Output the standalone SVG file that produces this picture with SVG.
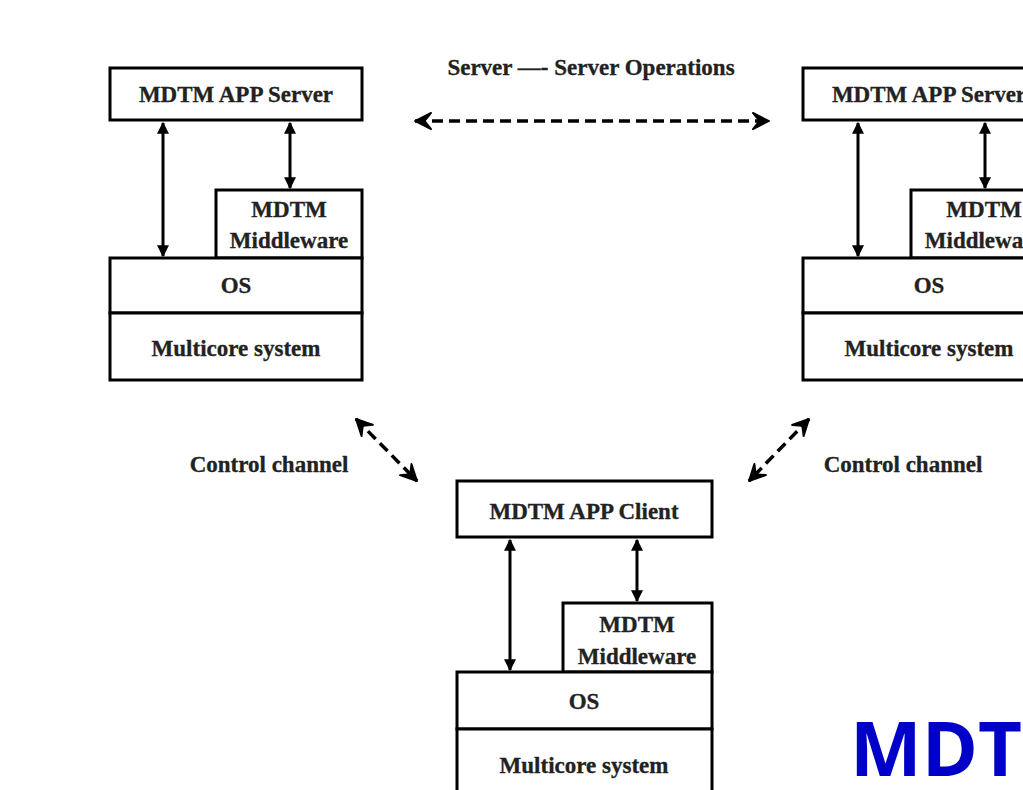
<svg xmlns="http://www.w3.org/2000/svg" width="1023" height="790" viewBox="0 0 1023 790">
<style>
.box{fill:#fff;stroke:#000;stroke-width:3}
.t{font-family:"Liberation Serif",serif;font-weight:bold;font-size:23px;fill:#222;stroke:#222;stroke-width:0.3;text-anchor:middle}
.v{stroke:#000;stroke-width:3;fill:none;marker-start:url(#ah);marker-end:url(#ah)}
.d{stroke:#000;stroke-width:3.5;fill:none;stroke-dasharray:11 6;marker-start:url(#oh);marker-end:url(#oh)}
</style>
<defs>
<marker id="ah" viewBox="0 0 10 10" refX="9" refY="5" markerWidth="4" markerHeight="4.5" orient="auto-start-reverse" markerUnits="strokeWidth"><path d="M0,0 L10,5 L0,10 z" fill="#000"/></marker>
<marker id="oh" viewBox="0 0 12 12" refX="11" refY="6" markerWidth="5.5" markerHeight="5.5" orient="auto-start-reverse" markerUnits="strokeWidth"><path d="M1,1 L11,6 L1,11 L5,6 z" fill="#000" stroke="#000" stroke-width="1.2" stroke-linejoin="round"/></marker>
</defs>
<rect width="1023" height="790" fill="#fff"/>
<g id="left-stack">
<rect class="box" x="110" y="68" width="252" height="52"/>
<text class="t" x="236" y="102">MDTM APP Server</text>
<rect class="box" x="216" y="190" width="146" height="68"/>
<text class="t" x="289" y="217">MDTM</text>
<text class="t" x="289" y="248">Middleware</text>
<rect class="box" x="110" y="258" width="252" height="55"/>
<text class="t" x="236" y="293">OS</text>
<rect class="box" x="110" y="313" width="252" height="67"/>
<text class="t" x="236" y="356">Multicore system</text>
</g>
<g id="right-stack">
<rect class="box" x="803" y="68" width="252" height="52"/>
<text class="t" x="929" y="102">MDTM APP Server</text>
<rect class="box" x="911" y="190" width="146" height="68"/>
<text class="t" x="984" y="217">MDTM</text>
<text class="t" x="984" y="248">Middleware</text>
<rect class="box" x="803" y="258" width="252" height="55"/>
<text class="t" x="929" y="293">OS</text>
<rect class="box" x="803" y="313" width="252" height="67"/>
<text class="t" x="929" y="356">Multicore system</text>
</g>
<g id="client-stack">
<rect class="box" x="457" y="481" width="255" height="56"/>
<text class="t" x="584" y="519">MDTM APP  Client</text>
<rect class="box" x="563" y="603" width="149" height="69"/>
<text class="t" x="637" y="632">MDTM</text>
<text class="t" x="637" y="664">Middleware</text>
<rect class="box" x="457" y="672" width="255" height="57"/>
<text class="t" x="584" y="709">OS</text>
<rect class="box" x="457" y="729" width="255" height="70"/>
<text class="t" x="584" y="773">Multicore system</text>
</g>
<g id="labels">
<text class="t" x="591" y="75">Server —- Server Operations</text>
<text class="t" x="269" y="472">Control channel</text>
<text class="t" x="903" y="472">Control channel</text>
<text x="850" y="776" style="font-family:'Open Sans','Liberation Sans',sans-serif;font-weight:bold;font-size:76px;fill:#0000c8">MDT</text>
</g>
<g id="connectors">
<line class="v" x1="163" y1="123" x2="163" y2="256"/>
<line class="v" x1="290" y1="123" x2="290" y2="188"/>
<line class="v" x1="858" y1="123" x2="858" y2="256"/>
<line class="v" x1="985" y1="123" x2="985" y2="188"/>
<line class="v" x1="510" y1="540" x2="510" y2="670"/>
<line class="v" x1="637" y1="540" x2="637" y2="601"/>
<line class="d" x1="415" y1="121" x2="769" y2="121"/>
<line class="d" x1="356" y1="419" x2="417" y2="481"/>
<line class="d" x1="809" y1="419" x2="749" y2="481"/>
</g>
</svg>
